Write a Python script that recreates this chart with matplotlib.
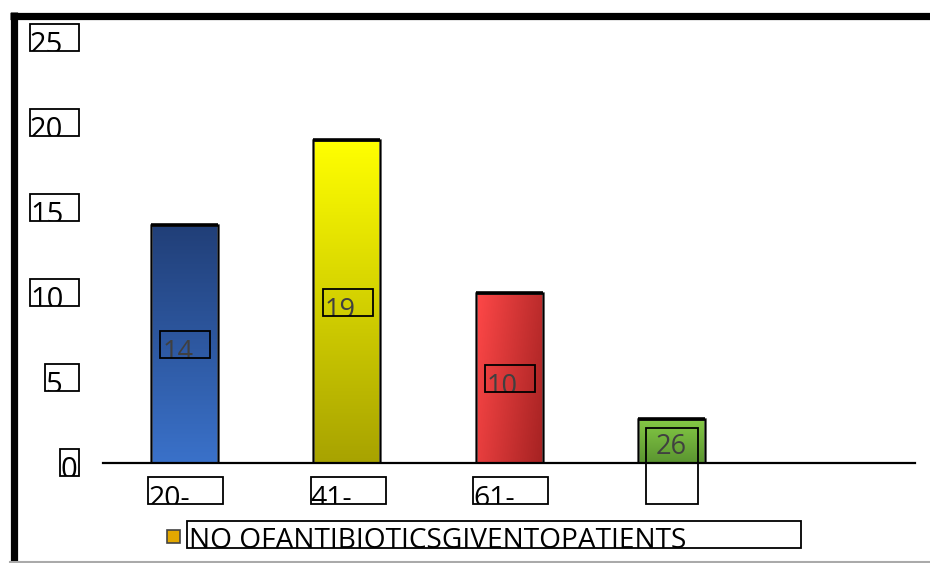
import numpy as np
import matplotlib.pyplot as plt
from matplotlib.patches import Rectangle
from matplotlib.colors import LinearSegmentedColormap
from matplotlib.transforms import Bbox

plt.rcParams['font.family'] = ['Open Sans', 'DejaVu Sans']

categories = ['20-', '41-', '61-', '', None]
values = [14, 19, 10, 2.6]
value_labels = ['14', '19', '10', '26']
yticks = [0, 5, 10, 15, 20, 25]
legend_label = 'NO OFANTIBIOTICSGIVENTOPATIENTS'

# gradient stops per bar: (start colour, end colour, direction)
grads = [('#3a71c9', '#213f78', 'v'),
         ('#a8a300', '#ffff00', 'v'),
         ('#ff4848', '#a52222', 'd'),
         ('#5a9530', '#86ca46', 'v')]

W, H = 930, 563
fig = plt.figure(figsize=(W / 100, H / 100), dpi=100)


def px(x, y, w, h):
    return [x / W, (H - y - h) / H, w / W, h / H]


ax = fig.add_axes(px(103, 38, 812, 425))
ax.set_xlim(-0.5, len(categories) - 0.5)
ax.set_ylim(0, 25)
for s in ['top', 'right', 'left']:
    ax.spines[s].set_visible(False)
ax.spines['bottom'].set_linewidth(1.6)
ax.spines['bottom'].set_zorder(5)
ax.set_xticks([])
ax.set_yticks([])

x = np.arange(len(values))
bw = 67 / 162.4
bars = ax.bar(x, values, width=bw, color='none', edgecolor='#555555',
              linewidth=1.8, zorder=3)

for b, (c0, c1, d) in zip(bars, grads):
    cmap = LinearSegmentedColormap.from_list('g', [c0, c1])
    if d == 'v':
        g = np.linspace(0, 1, 100).reshape(-1, 1)
    else:
        yy, xx = np.mgrid[0:1:100j, 0:1:100j]
        g = np.clip(0.75 * xx + 0.25 * (1 - yy), 0, 1)
    x0, w, h = b.get_x(), b.get_width(), b.get_height()
    im = ax.imshow(g, cmap=cmap, origin='lower', aspect='auto',
                   extent=[x0, x0 + w, 0, h], zorder=2, interpolation='bilinear')
    im.set_clip_path(b)
    # heavier top edge
    ax.plot([x0, x0 + w], [h, h], color='black', lw=2.6, zorder=4,
            solid_capstyle='butt')
    ax.plot([x0, x0], [0, h], color='black', lw=1.0, zorder=4)
    ax.plot([x0 + w, x0 + w], [0, h], color='black', lw=1.0, zorder=4)

ax.set_xlim(-0.5, len(categories) - 0.5)
ax.set_ylim(0, 25)


def boxed_text(x0, y0, w, h, s, size, color='black', dx=2, dy=1):
    """Draw text inside a framed box, cut off at the box edges."""
    r = Rectangle((x0 / W, 1 - (y0 + h) / H), w / W, h / H,
                  transform=fig.transFigure, fill=False, edgecolor='black',
                  linewidth=1.3, zorder=10)
    fig.add_artist(r)
    t = fig.text((x0 + dx) / W, 1 - (y0 + dy) / H, s, fontsize=size,
                 color=color, va='top', ha='left', zorder=9)
    t.set_clip_box(Bbox.from_extents(x0, H - y0 - h, x0 + w, H - y0))
    t.set_clip_on(True)
    return t


# y tick labels in boxes ending at x=79
tick_boxes = {25: (30, 49), 20: (30, 49), 15: (30, 49), 10: (30, 49),
              5: (45, 34), 0: (60, 19)}
for v in yticks:
    yc = H - ax.transData.transform((0, v))[1]
    bx, bwid = tick_boxes[v]
    boxed_text(bx, yc - 14, bwid, 27, str(v), 21, dx=0, dy=7)

# category labels below the axis
for i, c in enumerate(categories):
    if not c:
        continue
    xc = ax.transData.transform((i, 0))[0]
    boxed_text(xc - 36, 477, 75, 27, c, 20.5, dx=0, dy=8)

# value labels inside bars
for i, (v, s) in enumerate(zip(values, value_labels)):
    xc = ax.transData.transform((i, 0))[0]
    if i == 3:
        yc = H - ax.transData.transform((0, 0))[1]
        boxed_text(xc - 25, yc - 35, 52, 76, '', 18)
        fig.text(xc / W, 1 - (yc - 16) / H, s, fontsize=19.5, color='#404040',
                 ha='center', va='center', zorder=9)
    else:
        yc = H - ax.transData.transform((0, v / 2))[1]
        boxed_text(xc - 24, yc - 13, 50, 27, s, 19.5, color='#404040',
                   dx=2, dy=8)

# legend
fig.add_artist(Rectangle((167 / W, 1 - 543 / H), 13 / W, 13 / H,
                         transform=fig.transFigure, facecolor='#e3a800',
                         edgecolor='#444444', linewidth=1.2))
boxed_text(187, 521, 614, 27, legend_label, 20.2, dx=2, dy=6)

# heavy frame on the top and left
fig.add_artist(plt.Line2D([10 / W, 1], [1 - 15.5 / H, 1 - 15.5 / H],
                          transform=fig.transFigure, color='black', lw=5.2,
                          solid_capstyle='butt'))
fig.add_artist(plt.Line2D([13.5 / W, 13.5 / W], [0, 1 - 12 / H],
                          transform=fig.transFigure, color='black', lw=5.2,
                          solid_capstyle='butt'))
fig.add_artist(plt.Line2D([10 / W, 1], [1.5 / H, 1.5 / H],
                          transform=fig.transFigure, color='#aaaaaa', lw=1.5))

fig.savefig('out.png', dpi=100)
